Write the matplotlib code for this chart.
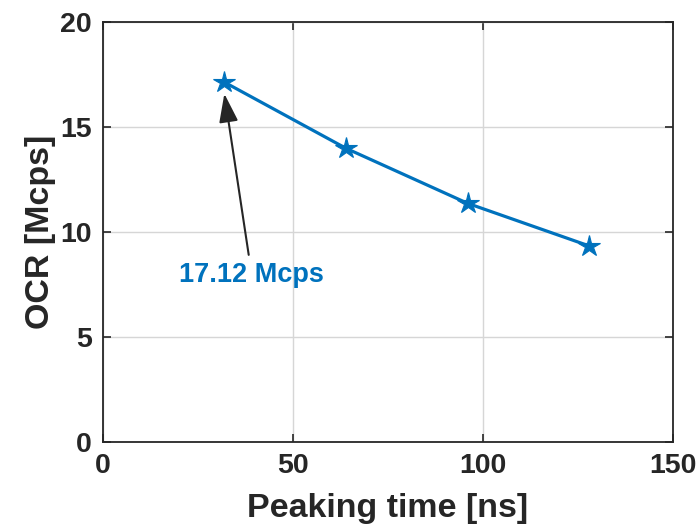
import matplotlib
matplotlib.use("Agg")
import matplotlib.pyplot as plt

peaking_time = [32, 64, 96, 128]
ocr = [17.12, 13.97, 11.35, 9.32]
x_ticks = [0, 50, 100, 150]
y_ticks = [0, 5, 10, 15, 20]
annot_text = "17.12 Mcps"

plt.rcParams['font.family'] = ['Liberation Sans', 'DejaVu Sans']
plt.rcParams['font.weight'] = 'bold'

fig = plt.figure(figsize=(7.0, 5.29), dpi=100)
ax = fig.add_axes([0.1467, 0.165, 0.8147, 0.794])
blue = '#0072BD'
dark = '#262626'

ax.plot(peaking_time, ocr, color=blue, linewidth=2.3, marker='*', markersize=16,
        markeredgewidth=0.8, zorder=3)

ax.set_xlim(0, 150)
ax.set_ylim(0, 20)
ax.set_xticks(x_ticks)
ax.set_yticks(y_ticks)
ax.grid(True, color='#d6d6d6', linewidth=1.0)
ax.set_axisbelow(True)
ax.tick_params(direction='in', top=True, right=True, length=6, width=1.2,
               colors=dark, labelsize=20.5, pad=8)
for lab in ax.get_xticklabels() + ax.get_yticklabels():
    lab.set_fontweight('bold')
for s in ax.spines.values():
    s.set_color(dark)
    s.set_linewidth(1.3)

ax.set_xlabel('Peaking time [ns]', fontsize=24.5, fontweight='bold', color=dark, labelpad=10)
ax.set_ylabel('OCR [Mcps]', fontsize=24.5, fontweight='bold', color=dark, labelpad=3)

ax.annotate(annot_text, xy=(peaking_time[0], ocr[0] - 0.55), xytext=(39.2, 7.95),
            ha='center', va='center', fontsize=19.5, fontweight='bold', color=blue,
            arrowprops=dict(arrowstyle='-|>,head_length=0.9,head_width=0.3',
                            color=dark, lw=1.5, shrinkA=3, shrinkB=0))

fig.savefig('out.png', dpi=100)
